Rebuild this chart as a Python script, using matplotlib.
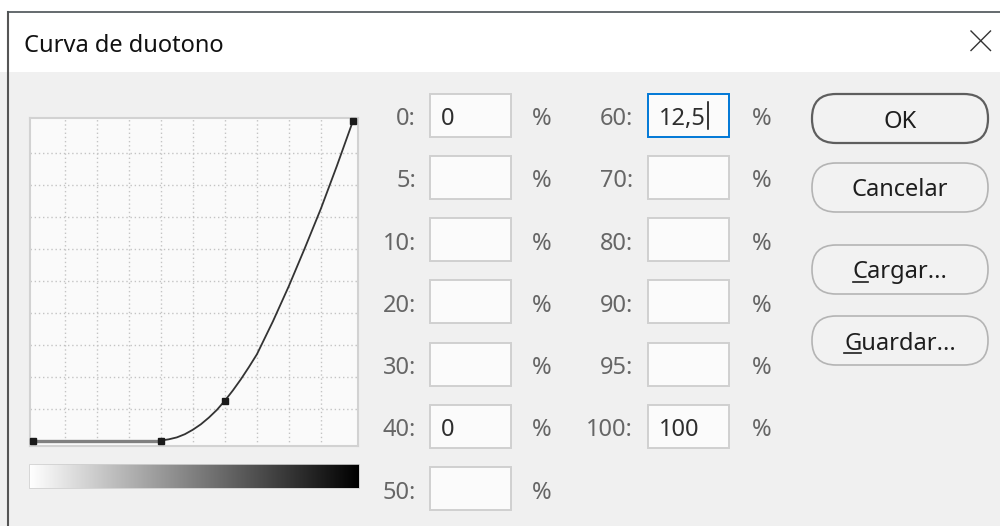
import matplotlib
matplotlib.use('Agg')
import matplotlib.pyplot as plt
from matplotlib.patches import Rectangle, FancyBboxPatch
import numpy as np

# duotone curve dialog: control points and the drawn curve
point_x = [0, 40, 60, 100]
point_y = [0, 0, 12.5, 100]
flat_x = [0, 40]
flat_y = [0, 0]
curve_x = [40, 42.5, 45, 47.5, 50, 52.5, 55, 57.5, 60, 62.5, 65, 67.5, 70,
           75, 80, 85, 90, 95, 100]
curve_y = [0, 0.4, 1.0, 2.0, 3.4, 5.1, 7.2, 9.6, 12.5, 15.7, 19.2, 23.0, 27.0,
           37.3, 48.4, 60.3, 72.6, 86.0, 100]

left_labels = ['0', '5', '10', '20', '30', '40', '50']
left_values = ['0', '', '', '', '', '0', '']
right_labels = ['60', '70', '80', '90', '95', '100']
right_values = ['12,5', '', '', '', '', '100']
buttons = ['OK', 'Cancelar', 'Cargar...', 'Guardar...']
title = 'Curva de duotono'

FONT = 'Noto Sans'
FS = 17
plt.rcParams['font.family'] = [FONT, 'DejaVu Sans']

W, H = 1000, 526
fig = plt.figure(figsize=(W / 100, H / 100), dpi=100)
fig.patch.set_facecolor('white')

# background axes in pixel units (y going down)
bg = fig.add_axes([0, 0, 1, 1])
bg.set_xlim(0, W)
bg.set_ylim(H, 0)
bg.axis('off')

# window chrome
bg.add_patch(Rectangle((0, 72), W, H - 72, facecolor='#f0f0f0', edgecolor='none', zorder=0))
bg.add_patch(Rectangle((8, 12), W - 8, 60, facecolor='white', edgecolor='none', zorder=0))
bg.plot([8, 8], [12, H], color='#555555', lw=1.5, zorder=1)
bg.plot([8, W], [12, 12], color='#4a5255', lw=1.2, zorder=1)
bg.text(24, 52, title, fontsize=FS, color='#111111', va='baseline', ha='left')
bg.plot([971, 990.5], [31, 50.5], color='#333333', lw=1.0)
bg.plot([971, 990.5], [50.5, 31], color='#333333', lw=1.0)

# gradient bar under the curve
grad = np.linspace(0, 1, 256)[None, :]
bg.imshow(grad, cmap='gray_r', extent=(29, 359, 488, 464), aspect='auto', zorder=1)
bg.add_patch(Rectangle((29, 464), 330, 24, facecolor='none', edgecolor='#d0d0d0', lw=0.6, zorder=2))
bg.set_xlim(0, W)
bg.set_ylim(H, 0)

# input rows
row_y0 = 115
row_step = 62.3
label_col = '#666666'
value_col = '#2e2e2e'
cursor_text = None


def draw_row(i, lab, val, lab_x, box_x, pct_x, focused=False):
    cy = row_y0 + i * row_step
    base = cy + 10
    bg.text(lab_x, base, lab + ':', fontsize=FS, color=label_col, ha='right', va='baseline')
    ec = '#0078d7' if focused else '#d0d0d0'
    bg.add_patch(Rectangle((box_x, cy - 21.5), 81, 43, facecolor='#fbfbfb', edgecolor=ec, lw=1.4, zorder=2))
    t = None
    if val:
        t = bg.text(box_x + 11, base, val, fontsize=FS, color=value_col, ha='left', va='baseline', zorder=3)
    bg.text(pct_x, base, '%', fontsize=FS, color=label_col, ha='left', va='baseline')
    return t, cy


for i, (lab, val) in enumerate(zip(left_labels, left_values)):
    draw_row(i, lab, val, 416, 430, 532)

for i, (lab, val) in enumerate(zip(right_labels, right_values)):
    t, cy = draw_row(i, lab, val, 633, 648, 752, focused=(i == 0))
    if i == 0:
        cursor_text = (t, cy)

# buttons
btn_top = [94, 163, 245, 316]
btn_h = 49
btn_text = []
for lab, top in zip(buttons, btn_top):
    is_default = lab == 'OK'
    bg.add_patch(FancyBboxPatch((812, top), 176, btn_h,
                                boxstyle='round,pad=0,rounding_size=24',
                                facecolor='#f2f2f2',
                                edgecolor='#5e5e5e' if is_default else '#b4b4b4',
                                lw=1.6 if is_default else 1.2, zorder=2))
    base = top + btn_h / 2 + 9
    t = bg.text(900, base, lab, fontsize=FS, color='#1e1e1e', ha='center', va='baseline', zorder=3)
    btn_text.append((lab, t, base))

# underlined access keys and text cursor need real text extents
fig.canvas.draw()
r = fig.canvas.get_renderer()
for lab, t, base in btn_text:
    if lab in ('Cargar...', 'Guardar...'):
        bb = t.get_window_extent(r)
        tmp = bg.text(0, 0, lab[0], fontsize=FS)
        w = tmp.get_window_extent(r).width
        tmp.remove()
        bg.plot([bb.x0, bb.x0 + w], [base + 3, base + 3], color='#1e1e1e', lw=1.2, zorder=3)

t, cy = cursor_text
bb = t.get_window_extent(r)
bg.plot([bb.x1 + 2, bb.x1 + 2], [cy - 13, cy + 14], color='black', lw=1.1, zorder=3)

# the curve itself
ax = fig.add_axes([30 / W, (H - 446) / H, 328 / W, 328 / H])
ax.set_facecolor('#fafafa')
ax.set_xlim(-0.9, 101.6)
ax.set_ylim(-1.7, 101)
ax.set_xticks(range(10, 100, 10))
ax.set_yticks(range(10, 100, 10))
ax.tick_params(length=0, labelbottom=False, labelleft=False)
ax.grid(True, linestyle=(0, (1, 2)), color='#c4c4c4', lw=1)
for s in ax.spines.values():
    s.set_color('#d2d2d2')
    s.set_linewidth(1.5)

ax.plot(flat_x, flat_y, color='#808080', lw=2.4, solid_capstyle='butt', zorder=3)
ax.plot(curve_x, curve_y, color='#333333', lw=1.3, zorder=4)
ax.plot(point_x, point_y, 's', color='#1a1a1a', ms=4.5, zorder=5, clip_on=False)

fig.savefig('out.png', dpi=100)
